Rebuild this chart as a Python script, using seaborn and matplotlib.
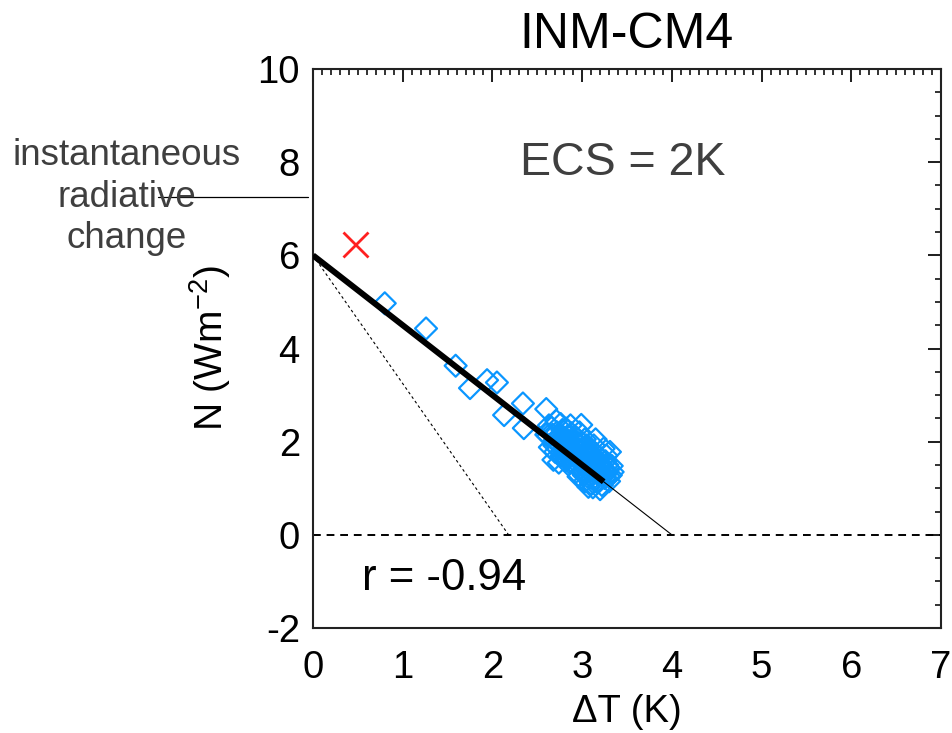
import matplotlib
matplotlib.use("Agg")
import matplotlib.pyplot as plt
from matplotlib.lines import Line2D
from matplotlib.ticker import MultipleLocator
import numpy as np
import pandas as pd
import seaborn as sns

# Annual-mean global temperature change and TOA imbalance (abrupt 4xCO2 run)
delta_t = [
    0.80, 1.26, 1.59, 1.75, 1.94, 2.05, 2.13, 2.34, 2.35, 2.60,
    2.60, 2.62, 2.64, 2.66, 2.69, 2.70, 2.72, 2.74, 2.76, 2.77,
    2.79, 2.80, 2.82, 2.83, 2.85, 2.86, 2.88, 2.89, 2.91, 2.92,
    2.94, 2.95, 2.96, 2.98, 2.99, 3.00, 3.01, 3.02, 3.04, 3.05,
    3.06, 3.07, 3.08, 3.09, 3.10, 3.12, 3.13, 3.14, 3.15, 3.17,
    3.18, 3.19, 3.20, 3.22, 3.23, 3.25, 3.26, 3.28, 3.31, 3.34,
    3.30, 2.68, 2.63, 2.67, 2.71, 2.73, 2.75, 2.78, 2.81, 2.84,
    2.87, 2.90, 2.93, 2.97, 2.99, 3.03, 3.05, 3.08, 3.11, 3.13,
    3.16, 3.18, 3.21, 3.24, 3.27, 3.29, 3.32, 3.03, 2.93, 2.86,
    2.80, 2.74, 3.15, 3.24, 3.10, 2.96, 3.00, 2.88, 2.84, 2.95,
    3.06, 3.17, 2.69, 2.72, 2.77, 2.79, 2.82, 2.86, 2.89, 2.91,
    2.94, 2.97, 3.00, 3.02, 3.05, 3.07, 3.10, 3.12, 3.14, 3.17,
    3.19, 3.22, 3.25, 3.28, 3.30, 3.33, 3.12, 3.20, 3.02, 2.92,
]
toa_n = [
    4.97, 4.43, 3.63, 3.15, 3.32, 3.27, 2.57, 2.82, 2.29, 2.70,
    2.15, 2.12, 1.88, 2.30, 2.02, 1.78, 2.20, 1.95, 2.38, 1.70,
    2.10, 1.86, 2.28, 1.62, 2.02, 1.80, 2.18, 1.55, 1.92, 1.70,
    2.08, 1.45, 1.84, 1.62, 2.36, 1.98, 1.38, 1.76, 1.55, 1.92,
    1.25, 1.03, 1.68, 1.45, 1.84, 1.20, 1.60, 1.36, 1.74, 1.12,
    1.50, 1.28, 1.66, 1.07, 1.42, 1.22, 1.58, 1.34, 1.78, 1.35,
    1.15, 1.61, 2.35, 2.15, 2.45, 1.85, 2.05, 2.25, 1.75, 1.95,
    2.35, 1.62, 1.88, 2.20, 1.52, 2.05, 1.70, 1.35, 1.55, 1.92,
    1.44, 1.18, 1.52, 1.30, 1.70, 1.45, 1.28, 1.15, 1.35, 1.55,
    1.60, 1.55, 2.05, 1.85, 1.10, 1.25, 1.68, 1.72, 2.12, 1.98,
    1.82, 1.62, 1.92, 2.08, 1.98, 1.80, 2.00, 1.90, 1.82, 2.02,
    1.75, 1.70, 1.85, 1.60, 1.50, 1.78, 1.40, 1.68, 1.52, 1.32,
    1.40, 1.60, 1.40, 1.50, 1.25, 1.48, 1.02, 0.98, 1.28, 1.50,
]

# Instantaneous (fixed-SST) forcing estimate
inst_t = [0.47]
inst_n = [6.24]

# Gregory regression: N = forcing + feedback * dT
forcing = 6.0
feedback = -1.5
fit_end = 3.24
ecs = -forcing / feedback / 2.0
r_value = -0.94

# Reference line with a steeper feedback
steep_end = 2.18

title = "INM-CM4"
x_ticks = [0, 1, 2, 3, 4, 5, 6, 7]
y_ticks = [-2, 0, 2, 4, 6, 8, 10]

sns.set_style("white")
plt.rcParams["font.family"] = ["Liberation Sans", "DejaVu Sans"]
plt.rcParams["mathtext.default"] = "regular"
plt.rcParams["axes.unicode_minus"] = False
for key in ["text.color", "axes.labelcolor", "xtick.color", "ytick.color",
            "xtick.labelcolor", "ytick.labelcolor"]:
    plt.rcParams[key] = "black"

blue = "#0A96FF"
grey = "#3f3f3f"

fig = plt.figure(figsize=(9.52, 7.33), dpi=100)
ax = fig.add_axes([313 / 952, 1 - 628 / 733, 628 / 952, 559 / 733])

df = pd.DataFrame({"dT": delta_t, "N": toa_n})
sns.scatterplot(data=df, x="dT", y="N", ax=ax, marker="D", s=125,
                color=blue, facecolor="none", edgecolor=blue,
                linewidth=1.6, zorder=3, legend=False)

# regression line (thick over the data, thin extrapolation to N=0)
x_zero = -forcing / feedback
ax.plot([0, fit_end], [forcing, forcing + feedback * fit_end],
        color="black", lw=4.3, solid_capstyle="butt", zorder=4)
ax.plot([fit_end, x_zero], [forcing + feedback * fit_end, 0],
        color="black", lw=0.8, zorder=4)
ax.plot([0, steep_end], [forcing, 0], color="black", lw=0.8,
        ls=(0, (2.5, 2.5)), zorder=2)
ax.axhline(0, color="black", lw=1.4, ls=(0, (4, 3)), zorder=2)

ax.plot(inst_t, inst_n, ls="none", marker="x", ms=18, mew=2,
        color="#FF2020", zorder=5)

ax.set_xlim(0, 7)
ax.set_ylim(-2, 10)
ax.set_xticks(x_ticks)
ax.set_yticks(y_ticks)
ax.xaxis.set_minor_locator(MultipleLocator(0.1))
ax.yaxis.set_minor_locator(MultipleLocator(0.5))
ax.tick_params(which="both", direction="in", top=True, right=True,
               color="#222222", labelcolor="black", labelsize=27.5)
ax.tick_params(which="major", length=9.4, width=1.45)
ax.tick_params(which="minor", length=4.5, width=1.3)
ax.tick_params(axis="x", pad=15.5)
ax.tick_params(axis="y", pad=9.5)
for sp in ax.spines.values():
    sp.set_linewidth(1.5)
    sp.set_color("#222222")

ax.set_xlabel("ΔT (K)", fontsize=27.5, color="black")
ax.set_ylabel("N (Wm$^{-2}$)", fontsize=28, color="black")
ax.xaxis.set_label_coords(0.5, (628 - 694) / 559)
ax.yaxis.set_label_coords((233 - 313) / 628, 0.5)
ax.set_title(title, fontsize=36, pad=15, color="black")

ax.text(3.456, 7.72, f"ECS = {ecs:.0f}K", ha="center", va="baseline",
        fontsize=33.5, color=grey)
ax.text(0.55, -1.18, f"r = {r_value:.2f}", ha="left", va="baseline",
        fontsize=31.5, color="black")

# side annotation pointing at the forcing
for txt, yb in [("instantaneous", 165), ("radiative", 207), ("change", 248)]:
    fig.text(127 / 952, 1 - yb / 733, txt, ha="center", va="baseline",
             fontsize=26.5, color=grey)
fig.add_artist(Line2D([158 / 952, 308 / 952], [1 - 197 / 733, 1 - 197 / 733],
                      color="black", lw=0.9, transform=fig.transFigure))

fig.savefig("out.png", dpi=100)
